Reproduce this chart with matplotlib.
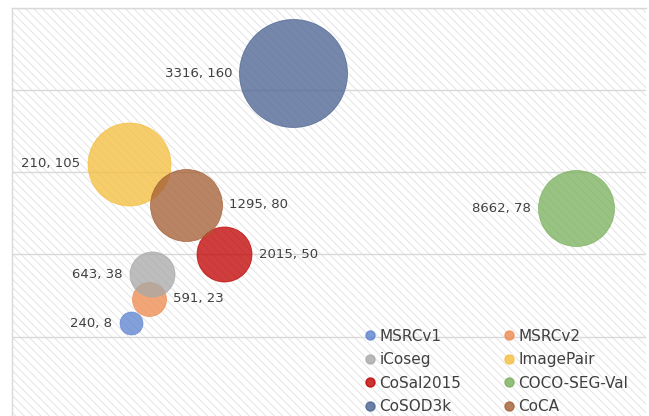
"""
Gráfico de bolhas: datasets de co-segmentação (imagens x grupos).
"""

import matplotlib.pyplot as plt
from matplotlib.lines import Line2D
from matplotlib.patches import Rectangle

# dados
datasets = ["MSRCv1", "MSRCv2", "iCoseg", "ImagePair",
            "CoSal2015", "COCO-SEG-Val", "CoSOD3k", "CoCA"]
imagens = [240, 591, 643, 210, 2015, 8662, 3316, 1295]
grupos = [8, 23, 38, 105, 50, 78, 160, 80]
tamanho_bolha = [4.5, 9.9, 17.4, 59, 25.9, 49.5, 100, 44.4]
lado_rotulo = ["left", "right", "left", "left", "right", "left", "left", "right"]

cores = ["#5B82CF", "#EE8A4E", "#A8A8A8", "#F4BE3C",
         "#C00000", "#79B05C", "#4A6290", "#A45E33"]

plt.rcParams["font.family"] = ["DejaVu Sans"]
plt.rcParams["hatch.linewidth"] = 0.6

fig = plt.figure(figsize=(6.49, 4.16), dpi=100)
ax = fig.add_axes([12.3 / 649, -2.8 / 416, 634.1 / 649, 411.2 / 416])

# fundo hachurado
ax.add_patch(Rectangle((0, 0), 1, 1, transform=ax.transAxes,
                       facecolor="white", edgecolor="#e0e0e0",
                       hatch="\\\\\\\\", linewidth=0, zorder=0))

ax.set_xlim(-2000, 10000)
ax.set_ylim(-50, 200)
ax.set_yticks([0, 50, 100, 150, 200])
ax.grid(axis="y", color="#d9d9d9", linewidth=1)
ax.set_axisbelow(True)
ax.tick_params(left=False, bottom=False, labelleft=False, labelbottom=False)
for lado in ["right", "bottom"]:
    ax.spines[lado].set_visible(False)
for lado in ["left", "top"]:
    ax.spines[lado].set_color("#d9d9d9")
    ax.spines[lado].set_linewidth(1)

escala_px = 108  # diâmetro em px da maior bolha
for nome, x, y, v, cor, lado in zip(datasets, imagens, grupos,
                                    tamanho_bolha, cores, lado_rotulo):
    diam_px = (v / 100) ** 0.5 * escala_px
    ax.scatter(x, y, s=(diam_px * 0.72) ** 2, color=cor, alpha=0.76,
               edgecolors=cor, linewidths=0.6, zorder=3)
    desloc = (diam_px / 2 + 7) * 0.72
    ax.annotate(f"{x}, {y}", (x, y),
                xytext=(-desloc if lado == "left" else desloc, 0),
                textcoords="offset points",
                ha="right" if lado == "left" else "left", va="center",
                fontsize=9.5, color="#404040", zorder=4)

handles = [Line2D([], [], linestyle="none", marker="o", markersize=6.5,
                  color=cor, alpha=0.8) for cor in cores]
ordem = list(range(0, 8, 2)) + list(range(1, 8, 2))
ax.legend([handles[i] for i in ordem], [datasets[i] for i in ordem],
          ncol=2, loc="upper left", bbox_to_anchor=(358 / 649, 1 - 321 / 416),
          bbox_transform=fig.transFigure, frameon=False,
          fontsize=11, handlelength=0.6, handletextpad=0.3,
          columnspacing=2.85, labelspacing=0.56, borderpad=0,
          labelcolor="#404040")

fig.savefig("out.png", dpi=100)
